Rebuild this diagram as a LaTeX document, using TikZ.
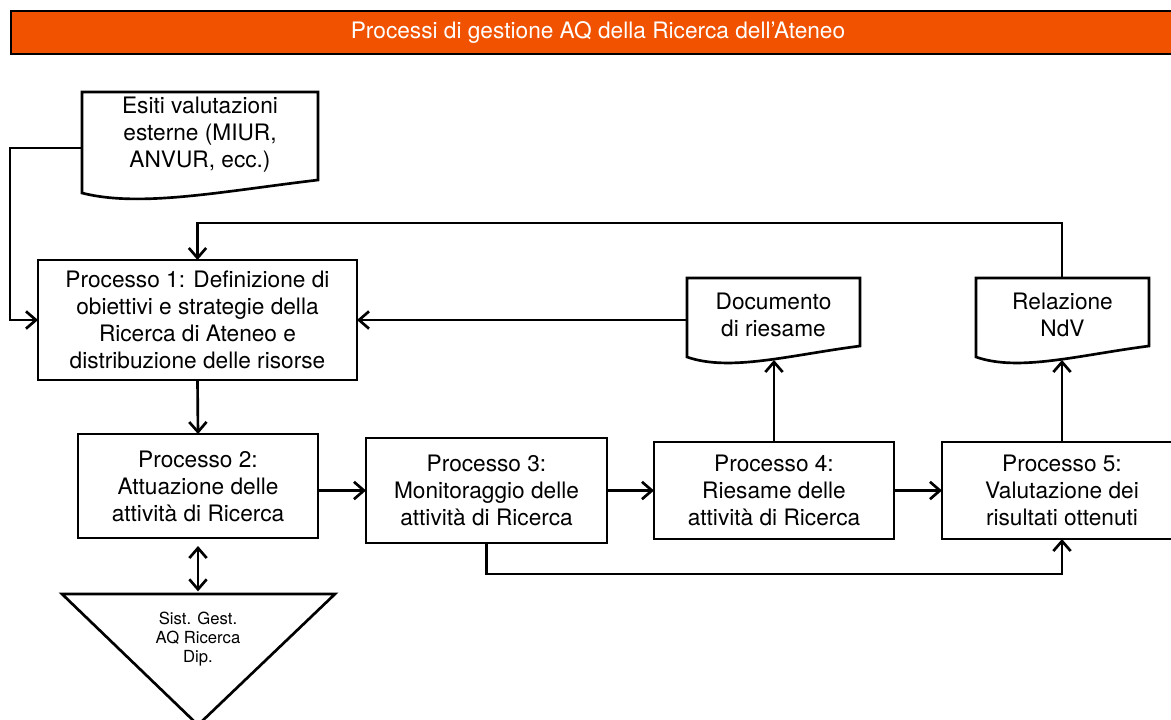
\documentclass[tikz,border=0pt]{standalone}
\usepackage{fontspec}
\setmainfont{TeX Gyre Heros}
\usetikzlibrary{arrows.meta}
\definecolor{hdrorange}{RGB}{240,82,0}
\begin{document}
\begin{tikzpicture}[x=0.75pt,y=-0.75pt, line width=2pt,
  every node/.style={inner sep=0pt, outer sep=0pt, align=center},
  box/.style={draw, line width=2pt, fill=white, font=\fontsize{17}{20.25}\selectfont},
  lbl/.style={font=\fontsize{17}{20.25}\selectfont},
  small/.style={font=\fontsize{12.5}{14.5}\selectfont},
  barbtip/.tip={Straight Barb[length=7.5pt,width=13pt,line width=2pt]},
  arr/.style={draw, line width=2pt, -barbtip},
  dbl/.style={draw, line width=2pt, barbtip-barbtip},
  docshape/.style={draw, line width=2pt, fill=white},
  hdr/.style={draw, line width=1.8pt, fill=hdrorange, text=white, font=\fontsize{17}{20.25}\selectfont}
]
\useasboundingbox (0,0) rectangle (1171,719);
\clip (0,0) rectangle (1171,719);

% header
\node[hdr, minimum width=880.5pt, minimum height=32.25pt] (title) at (598,32.5) {Processi di gestione AQ della Ricerca dell'Ateneo};

% document shapes
\draw[docshape] (82,193) -- (82,92) -- (318,92) -- (318,180) .. controls (224,191) and (141,208) .. (82,193) -- cycle;
\draw[docshape] (687,357) -- (687,278) -- (860,278) -- (860,346) .. controls (790,355) and (730,372) .. (687,357) -- cycle;
\draw[docshape] (976,357) -- (976,278) -- (1149,278) -- (1149,346) .. controls (1079,355) and (1019,372) .. (976,357) -- cycle;
\node[lbl] (esiti) at (200,135) {Esiti valutazioni\\esterne (MIUR,\\ANVUR, ecc.)};
\node[lbl] (docu) at (773.5,315) {Documento\\di riesame};
\node[lbl] (rel) at (1062.5,315) {Relazione\\NdV};

% process boxes
\node[box, minimum width=239.25pt, minimum height=90pt] (p1) at (197.5,320) {Processo 1: Definizione di\\obiettivi e strategie della\\Ricerca di Ateneo e\\distribuzione delle risorse};
\node[box, minimum width=180pt, minimum height=78pt] (p2) at (198,486) {Processo 2:\\Attuazione delle\\attività di Ricerca};
\node[box, minimum width=180.75pt, minimum height=78.75pt] (p3) at (486.5,490.5) {Processo 3:\\Monitoraggio delle\\attività di Ricerca};
\node[box, minimum width=180pt, minimum height=72.75pt] (p4) at (774,490.5) {Processo 4:\\Riesame delle\\attività di Ricerca};
\node[box, minimum width=180pt, minimum height=72.75pt] (p5) at (1062,490.5) {Processo 5:\\Valutazione dei\\risultati ottenuti};

% triangle
\draw[docshape] (62,594) -- (335,594) -- (198,725) -- cycle;
\node[small] (tri) at (198,639) {Sist. Gest.\\AQ Ricerca\\Dip.};

% coordinates
\coordinate (esitiL) at (82,148);
\coordinate (leftx) at (10,148);
\coordinate (docL) at (687,320);
\coordinate (docB) at (774,360);
\coordinate (relB) at (1062,360);
\coordinate (relT) at (1062,278);
\coordinate (topy) at (0,223);
\coordinate (lowy) at (0,574);
\coordinate (tritop) at (198,594);

% connectors
\draw[arr] (esitiL) -- (leftx) |- (p1.west);
\draw[arr] (relT) -- (relT |- topy) -| (p1.north);
\draw[arr] (docL) -- (p1.east |- docL);
\draw[arr] (p1.south) -- (p2.north);
\draw[arr] (p2.east |- p3.west) -- (p3.west);
\draw[arr] (p3.east) -- (p4.west);
\draw[arr] (p4.east) -- (p5.west);
\draw[arr] (p4.north) -- (docB);
\draw[arr] (p5.north) -- (relB);
\draw[arr] (p3.south) -- (p3.south |- lowy) -| (p5.south);
\draw[dbl, shorten <=6pt, shorten >=2pt] (p2.south) -- (tritop);
\end{tikzpicture}
\end{document}
